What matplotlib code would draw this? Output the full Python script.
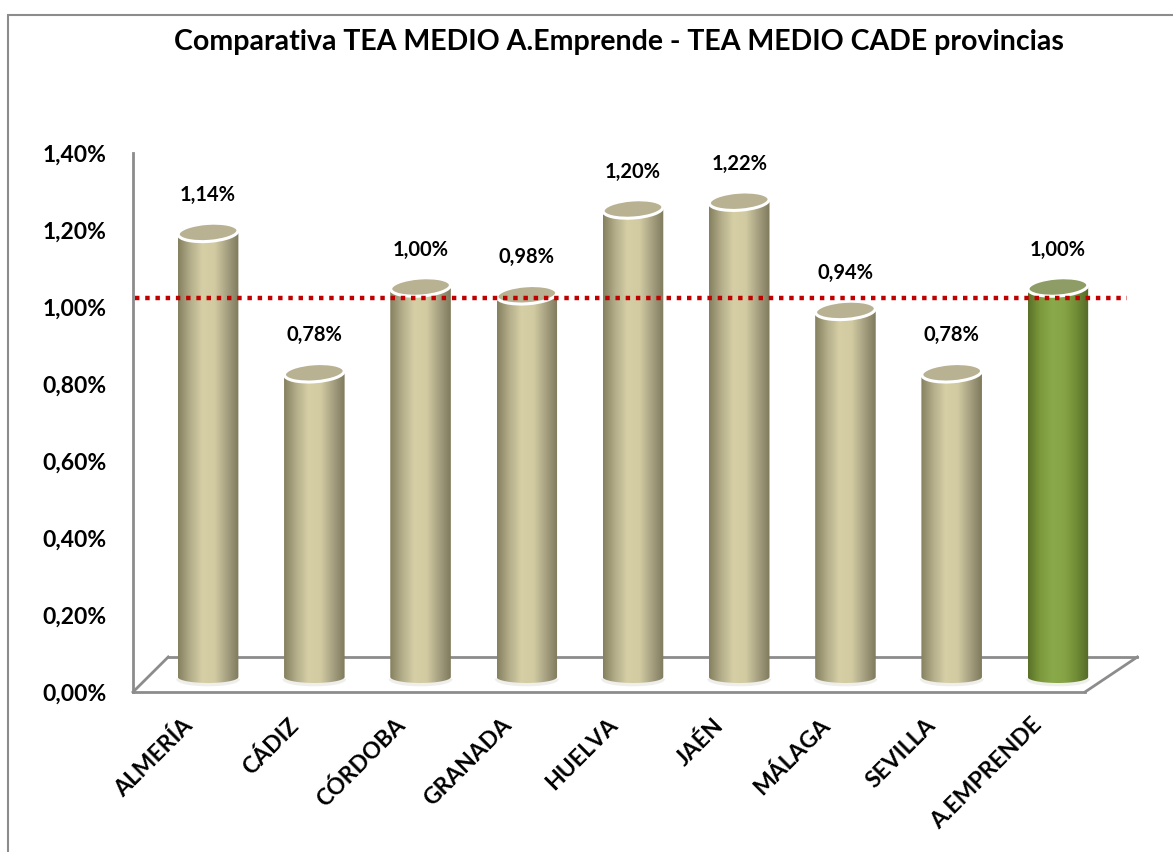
import matplotlib.pyplot as plt
import matplotlib.transforms as mtransforms
from matplotlib.colors import LinearSegmentedColormap
from matplotlib.patches import Ellipse, PathPatch, Rectangle
from matplotlib.path import Path
import numpy as np

plt.rcParams['font.family'] = ['Lato', 'DejaVu Sans']

categories = ['ALMERÍA', 'CÁDIZ', 'CÓRDOBA', 'GRANADA', 'HUELVA', 'JAÉN', 'MÁLAGA', 'SEVILLA', 'A.EMPRENDE']
values = [1.14, 0.78, 1.00, 0.98, 1.20, 1.22, 0.94, 0.78, 1.00]
labels = ['1,14%', '0,78%', '1,00%', '0,98%', '1,20%', '1,22%', '0,94%', '0,78%', '1,00%']
ref_value = 1.00
yticks = [0, 0.2, 0.4, 0.6, 0.8, 1.0, 1.2, 1.4]
ytick_labels = ['0,00%', '0,20%', '0,40%', '0,60%', '0,80%', '1,00%', '1,20%', '1,40%']

W, H = 1173, 852
fig = plt.figure(figsize=(W / 100, H / 100), dpi=100)

# outer chart border
fig.add_artist(Rectangle((8 / W, -0.1), 1.2, 1 - 15 / H + 0.1, transform=fig.transFigure,
                         fill=False, edgecolor='#8c8c8c', linewidth=1.5))

fig.text(619 / W, 1 - 42 / H, 'Comparativa TEA MEDIO A.Emprende - TEA MEDIO CADE provincias',
         ha='center', va='center', fontsize=20.5, fontweight='bold')

# value axis + floor
axv = fig.add_axes([133 / W, 1 - 692 / H, (1085 - 133) / W, (692 - 153) / H])
axv.set_ylim(0, 1.4)
axv.set_xlim(0, 1)
axv.set_yticks(yticks)
axv.set_yticklabels(ytick_labels, fontsize=16.5, fontweight='bold')
axv.tick_params(axis='y', length=0, pad=19)
axv.set_xticks([])
axv.patch.set_alpha(0)
for s in ['top', 'right']:
    axv.spines[s].set_visible(False)
for s in ['left', 'bottom']:
    axv.spines[s].set_color('#8c8c8c')
    axv.spines[s].set_linewidth(2)
floor_c = '#8c8c8c'
dx, dy = 0.037, 0.065
axv.plot([0, dx], [0, dy], transform=axv.transAxes, color=floor_c, lw=2, clip_on=False)
axv.plot([dx, 1 + 0.055], [dy, dy], transform=axv.transAxes, color=floor_c, lw=2, clip_on=False)
axv.plot([1, 1 + 0.055], [0, dy], transform=axv.transAxes, color=floor_c, lw=2, clip_on=False)

# bars axis (0 sits at pixel row 677, 390 px per 1%)
ylo, y0, ppu = -0.05, 677, 390
ax = fig.add_axes([155 / W, 1 - (y0 - ylo * ppu) / H, 956 / W, (1.4 - ylo) * ppu / H])
ax.set_xlim(-0.5, len(categories) - 0.5)
ax.set_ylim(ylo, 1.4)
ax.axis('off')

khaki = LinearSegmentedColormap.from_list('k', ['#85805f', '#b3ad8a', '#d6cfa6', '#d2cba2', '#a8a283', '#7f7a5c'])
green = LinearSegmentedColormap.from_list('g', ['#5a7128', '#7c9a3c', '#8aa94a', '#86a446', '#708c35', '#55692a'])
grad = np.linspace(0, 1, 200).reshape(1, -1)

bw = 0.57
eh = 6 / ppu  # half height of the bottom ellipse in data units
t = np.linspace(np.pi, 2 * np.pi, 40)
for i, v in enumerate(values):
    is_total = categories[i] == 'A.EMPRENDE'
    cmap = green if is_total else khaki
    left, right = i - bw / 2, i + bw / 2
    verts = [(left, v), (left, 0)]
    verts += list(zip(i + bw / 2 * np.cos(t), 0 + eh * np.sin(t)))
    verts += [(right, v), (left, v)]
    clip = PathPatch(Path(verts, closed=True), transform=ax.transData, facecolor='none',
                     edgecolor='none')
    ax.add_patch(clip)
    im = ax.imshow(grad, cmap=cmap, extent=[left, right, -eh, v], aspect='auto',
                   interpolation='bilinear', zorder=2)
    im.set_clip_path(clip)
    bot = PathPatch(Path(list(zip(i + bw / 2 * np.cos(t), eh * np.sin(t) - 0.004))),
                    transform=ax.transData, facecolor='none', edgecolor='#eeeeea', lw=2.5,
                    zorder=1.5)
    ax.add_patch(bot)
    tr = mtransforms.Affine2D().rotate_deg(4) + mtransforms.ScaledTranslation(i, v, ax.transData)
    top = Ellipse((0, 0), 60, 18, transform=tr, facecolor='#8e9c66' if is_total else '#b8b192',
                  edgecolor='white', lw=2.2, zorder=3)
    ax.add_patch(top)
    ax.annotate(labels[i], (i, v), xytext=(0, 27), textcoords='offset points',
                ha='center', va='center', fontsize=14.5, fontweight='bold')
    ax.annotate(categories[i], (i, 0), xytext=(-19, -27), textcoords='offset points',
                ha='right', va='top', rotation=45, rotation_mode='anchor',
                fontsize=16.5, fontweight='bold', annotation_clip=False)

ref_tr = ax.get_yaxis_transform() + mtransforms.Affine2D().translate(0, -11)
ax.plot([-0.021, 1.017], [ref_value, ref_value], transform=ref_tr, color='#c00000',
        lw=3.2, linestyle=(0, (1, 1.3)), clip_on=False, zorder=4)

fig.savefig('out.png', dpi=100)
